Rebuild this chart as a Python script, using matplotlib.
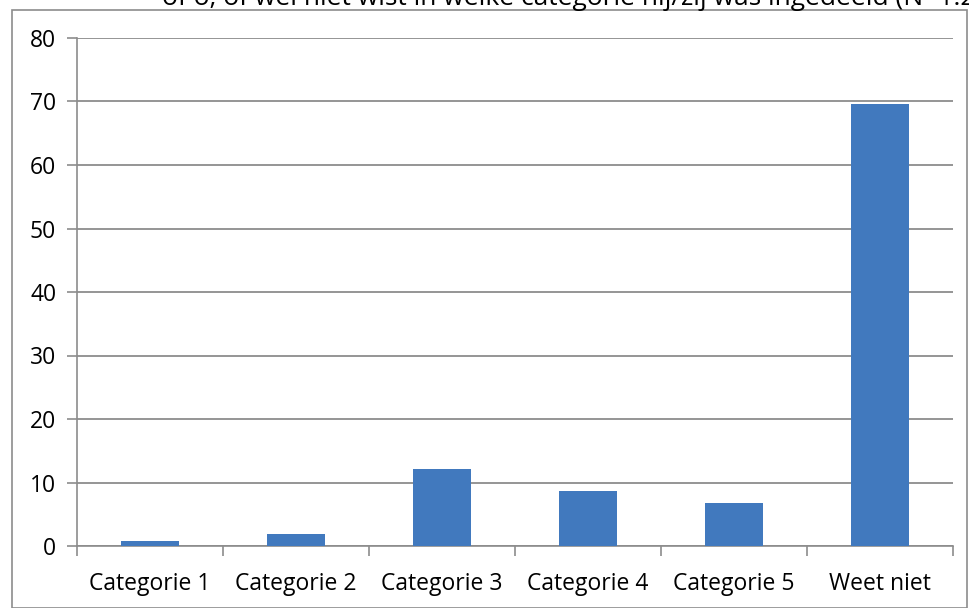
import matplotlib.pyplot as plt
import numpy as np
from matplotlib.patches import Rectangle

categorieen = ['Categorie 1', 'Categorie 2', 'Categorie 3', 'Categorie 4', 'Categorie 5', 'Weet niet']
waarden = [0.8, 1.9, 12.2, 8.6, 6.8, 69.6]
y_ticks = [0, 10, 20, 30, 40, 50, 60, 70, 80]
titel = 'of o, of wel niet wist in welke categorie hij/zij was ingedeeld (N=1.2'

plt.rcParams['font.family'] = ['Open Sans', 'DejaVu Sans']

W, H = 970, 608
fig = plt.figure(figsize=(W / 100, H / 100), dpi=100)

# grijze kader rond de grafiek
fig.patches.append(Rectangle((12 / W, 0), (967 - 12) / W, (H - 10) / H,
                             transform=fig.transFigure, fill=False,
                             edgecolor='#8c8c8c', linewidth=1.2))

# afgesneden titel bovenaan
fig.text(162 / W, 1 - 5 / H, titel, fontsize=19, va='baseline', ha='left', color='black')

ax = fig.add_axes([77 / W, 1 - 546 / H, (953 - 77) / W, (546 - 38) / H])
x = np.arange(len(categorieen))
ax.bar(x, waarden, width=0.4, color='#4179BE', zorder=3)

ax.set_xlim(-0.5, len(categorieen) - 0.5)
ax.set_ylim(0, 80)
ax.set_yticks(y_ticks)
ax.set_yticklabels([str(v) for v in y_ticks])
ax.set_xticks(x)
ax.set_xticklabels(categorieen)
ax.set_xticks(np.arange(-0.5, len(categorieen)), minor=True)
ax.tick_params(axis='x', which='major', length=0, pad=19, labelsize=16.5)
ax.tick_params(axis='x', which='minor', length=7, width=1.2, color='#8c8c8c', direction='out')
ax.tick_params(axis='y', length=7, width=1.2, color='#8c8c8c', pad=8, labelsize=16.5)

ax.yaxis.grid(True, color='#8c8c8c', linewidth=1.3, zorder=0)
for s in ['top', 'right']:
    ax.spines[s].set_visible(False)
for s in ['left', 'bottom']:
    ax.spines[s].set_color('#8c8c8c')
    ax.spines[s].set_linewidth(1.2)

fig.savefig('out.png', dpi=100)
